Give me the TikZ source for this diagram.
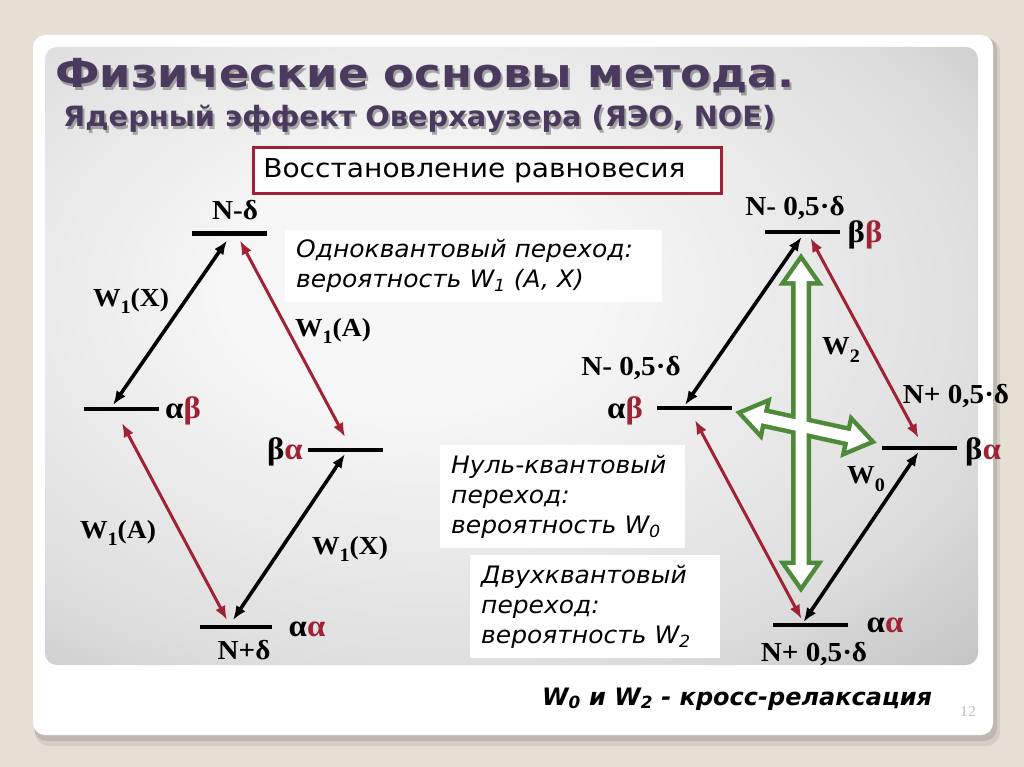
\documentclass[tikz,border=0pt]{standalone}
\usepackage{fontspec}
\usetikzlibrary{arrows.meta,calc}
\newfontfamily\timesf{Liberation Serif}[FakeStretch=1.06]
\newfontfamily\dvs{DejaVu Sans}[FakeStretch=1.04]
\newfontfamily\dvsn{DejaVu Sans}
\newfontfamily\dvsw{DejaVu Sans}[FakeStretch=1.08]
\newfontfamily\titlef{DejaVu Sans}[FakeStretch=1.12]
\newfontfamily\subf{DejaVu Sans}[FakeStretch=1.03]
\definecolor{bgbeige}{RGB}{229,223,212}
\definecolor{myred}{RGB}{160,34,52}
\definecolor{mygreen}{RGB}{78,138,58}
\definecolor{titlec}{RGB}{74,58,94}
\definecolor{pcenter}{RGB}{246,246,246}
\definecolor{pmid}{RGB}{222,222,222}
\definecolor{pedge}{RGB}{168,168,168}
\definecolor{pcorner}{RGB}{145,145,145}
\pgfdeclareradialshading{panelshade}{\pgfpoint{-6bp}{6bp}}{color(0bp)=(pcenter); color(10bp)=(pcenter); color(30bp)=(pmid); color(52bp)=(pedge); color(72bp)=(pcorner); color(100bp)=(pcorner)}
\newcommand\wsub[2]{W\raisebox{-0.3em}{\fontsize{19}{19}\selectfont #1}#2}
\newcommand\hollowpath[2]{(#1) -- ($(#1)!20pt!(#2)!14pt!90:(#2)$) -- ($(#1)!20pt!(#2)!5.5pt!90:(#2)$) -- ($(#2)!20pt!(#1)!5.5pt!-90:(#1)$) -- ($(#2)!20pt!(#1)!14pt!-90:(#1)$) -- (#2) -- ($(#2)!20pt!(#1)!14pt!90:(#1)$) -- ($(#2)!20pt!(#1)!5.5pt!90:(#1)$) -- ($(#1)!20pt!(#2)!5.5pt!-90:(#2)$) -- ($(#1)!20pt!(#2)!14pt!-90:(#2)$) -- cycle}
\tikzset{
  lvl/.style={fill=black, minimum width=75pt, minimum height=4.8pt, inner sep=0pt, outer sep=0pt},
  lbl/.style={font=\timesf\bfseries\fontsize{26}{30}\selectfont, inner sep=0pt},
  nlbl/.style={font=\timesf\bfseries\fontsize{27.5}{30}\selectfont, inner sep=0pt},
  glbl/.style={font=\timesf\bfseries\fontsize{31}{34}\selectfont, inner sep=0pt},
  blk/.style={draw=black, line width=3.6pt, {Latex[length=14pt,width=11pt]}-{Latex[length=14pt,width=11pt]}},
  redarr/.style={draw=myred, line width=3pt, {Latex[length=14pt,width=11pt]}-{Latex[length=14pt,width=11pt]}},
  infobox/.style={fill=white, inner xsep=11pt, inner ysep=0pt, align=left, anchor=north west, font=\dvs\itshape\fontsize{24}{30}\selectfont},
  titletxt/.style={font=\titlef\bfseries\fontsize{40}{46}\selectfont, inner sep=0pt, anchor=base west},
  subtxt/.style={font=\subf\bfseries\fontsize{28}{32}\selectfont, inner sep=0pt, anchor=base west},
  greenout/.style={draw=mygreen, line width=9pt, line join=miter},
  greenin/.style={fill=white}
}
\begin{document}
\begin{tikzpicture}[x=1pt,y=-1pt]
\useasboundingbox (0,0) rectangle (1024,767);
\fill[bgbeige] (0,0) rectangle (1024,767);
% card with shadow
\fill[black, opacity=0.07, rounded corners=14pt] (35,38) rectangle (1000,746);
\fill[black, opacity=0.10, rounded corners=13pt] (34,37) rectangle (997,741);
\fill[white, rounded corners=12pt] (33,35) rectangle (993,735);
\shade[shading=panelshade, rounded corners=12pt] (45,47) rectangle (978,665);

% title
\node[titletxt, text=black, opacity=0.3] (titleshadow) at (57,90.5) {Физические основы метода.};
\node[titletxt, text=titlec] (title) at (55,88) {Физические основы метода.};
\node[subtxt, text=black, opacity=0.3] (subshadow) at (65,129.5) {Ядерный эффект Оверхаузера (ЯЭО, NOE)};
\node[subtxt, text=titlec] (subtitle) at (63,127) {Ядерный эффект Оверхаузера (ЯЭО, NOE)};

% restoration box
\node[draw=myred, line width=3.5pt, fill=white, anchor=north west, minimum height=46pt, text width=448pt, inner xsep=10pt, inner ysep=0pt, align=left, font=\dvsw\fontsize{26}{30}\selectfont] (restore) at (251.5,146) {Восстановление равновесия};

% info boxes
\node[infobox, text width=355pt, minimum height=72pt] (box1) at (285,230) {Одноквантовый переход:\\вероятность W\textsubscript{1} (A, X)};
\node[infobox, text width=223pt, minimum height=103pt] (box2) at (440,445) {Нуль-квантовый\\переход:\\вероятность W\textsubscript{0}};
\node[infobox, text width=228pt, minimum height=103pt] (box3) at (470,555) {Двухквантовый\\переход:\\вероятность W\textsubscript{2}};

% ---------- left diagram ----------
\node[lvl] (Ltop) at (229.5,233.5) {};
\node[lvl] (Lab) at (121,409) {};
\node[lvl] (Lba) at (345.5,450) {};
\node[lvl, minimum width=72pt] (Laa) at (236,627) {};
\node[nlbl] (Ltoplbl) at (235,210) {N-δ};
\node[nlbl] (Laalbl) at (244,650) {N+δ};
\node[glbl] (Labg) at (183,411) {α\textcolor{myred}{β}};
\node[glbl] (Lbag) at (285,452) {β\textcolor{myred}{α}};
\node[glbl] (Laag) at (307,629) {α\textcolor{myred}{α}};

\draw[blk] ($(Ltop.center)+(-2.5,7)$) -- ($(Lab.center)+(-8,-4)$);
\draw[redarr] ($(Ltop.center)+(10.5,7)$) -- ($(Lba.center)+(-0.5,-13)$);
\draw[redarr] ($(Lab.center)+(1,14)$) -- ($(Laa.center)+(-9,-7)$);
\draw[blk] ($(Laa.center)+(-3,-7)$) -- ($(Lba.center)+(-0.5,4)$);

\node[lbl] (w1x1) at (131,301) {\wsub{1}{(X)}};
\node[lbl] (w1a1) at (333,331) {\wsub{1}{(A)}};
\node[lbl] (w1a2) at (118,533) {\wsub{1}{(A)}};
\node[lbl] (w1x2) at (350,549) {\wsub{1}{(X)}};

% ---------- right diagram ----------
\node[lvl] (Rbb) at (802.5,232) {};
\node[lvl] (Rab) at (694.5,408) {};
\node[lvl] (Rba) at (919.5,448) {};
\node[lvl] (Raa) at (810.5,625) {};
\node[nlbl] (Rbblbl) at (795,208) {N- 0,5·δ};
\node[nlbl] (Rablbl) at (631,368) {N- 0,5·δ};
\node[nlbl] (Rbalbl) at (956,396) {N+ 0,5·δ};
\node[nlbl] (Raalbl) at (814,654) {N+ 0,5·δ};
\node[glbl] (Rbbg) at (865,235) {β\textcolor{myred}{β}};
\node[glbl] (Rabg) at (625,411) {α\textcolor{myred}{β}};
\node[glbl] (Rbag) at (983,452) {β\textcolor{myred}{α}};
\node[glbl] (Raag) at (885,625) {α\textcolor{myred}{α}};

% green hollow arrows
\coordinate (w2a) at ($(Rbb.center)+(-1.5,29)$);
\coordinate (w2b) at ($(Raa.center)+(-9.5,-40)$);
\coordinate (w0a) at ($(Rab.center)+(48.5,5.5)$);
\coordinate (w0b) at ($(Rba.center)+(-50.5,-7)$);
\draw[greenout] \hollowpath{w2a}{w2b};
\draw[greenout] \hollowpath{w0a}{w0b};
\fill[greenin] \hollowpath{w2a}{w2b};
\fill[greenin] \hollowpath{w0a}{w0b};

\draw[blk] ($(Rbb.center)+(-1,5)$) -- ($(Rab.center)+(-9.5,-3)$);
\draw[redarr] ($(Rbb.center)+(8,6)$) -- ($(Rba.center)+(-1,-10)$);
\draw[redarr] ($(Rab.center)+(0.5,12)$) -- ($(Raa.center)+(-9,-6)$);
\draw[blk] ($(Raa.center)+(-7,-3)$) -- ($(Rba.center)+(-1,4)$);

\node[lbl] (w2lbl) at (841,350) {\wsub{2}{}};
\node[lbl] (w0lbl) at (866,479) {\wsub{0}{}};

% bottom note
\node[anchor=base west, inner sep=0pt, font=\dvsn\bfseries\itshape\fontsize{24}{28}\selectfont] (note) at (542,705) {W\textsubscript{0} и W\textsubscript{2} - кросс-релаксация};
\node[anchor=base, inner sep=0pt, text=black!25, font=\timesf\fontsize{15}{17}\selectfont] (slidenum) at (968,716) {12};
\end{tikzpicture}
\end{document}
